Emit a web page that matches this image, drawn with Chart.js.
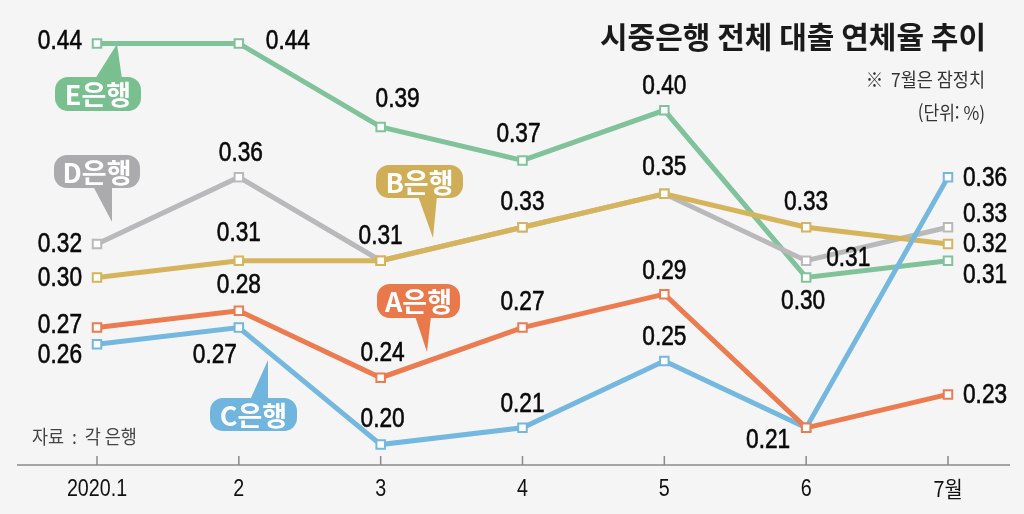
<!DOCTYPE html>
<html lang="ko">
<head>
<meta charset="UTF-8">
<title>시중은행 전체 대출 연체율 추이</title>
<script src="https://cdn.jsdelivr.net/npm/chart.js"></script>
<style>
  html, body { margin: 0; padding: 0; background: #f5f5f5; }
  #wrap { width: 1024px; height: 514px; position: relative; }
</style>
</head>
<body>
<div id="wrap"><canvas id="c" width="1024" height="514"></canvas></div>
<script>
// data
const months = ['2020.1', '2', '3', '4', '5', '6', '7월'];
const bankA = [0.27, 0.28, 0.24, 0.27, 0.29, 0.21, 0.23];
const bankB = [0.30, 0.31, 0.31, 0.33, 0.35, 0.33, 0.32];
const bankC = [0.26, 0.27, 0.20, 0.21, 0.25, 0.21, 0.36];
const bankD = [0.32, 0.36, 0.31, 0.33, 0.35, 0.31, 0.33];
const bankE = [0.44, 0.44, 0.39, 0.37, 0.40, 0.30, 0.31];

// value label placement per point: [dx, dy, align] or null (hidden)
const placeA = [[-15,-3,'right'],[0,-26,'center'],[2,-25,'center'],[0,-26,'center'],[0,-24,'center'],null,[15,0,'left']];
const placeB = [[-15,0,'right'],[0,-28,'center'],[0,-25,'center'],[0,-26,'center'],[0,-27,'center'],[0,-26,'center'],[15,0,'left']];
const placeC = [[-15,10,'right'],[-24,27,'center'],[2,-26,'center'],[0,-24,'center'],[0,-24,'center'],[-38,12,'center'],[15,0,'left']];
const placeD = [[-15,0,'right'],[2,-25,'center'],null,null,null,[20,-3,'left'],[15,-14,'left']];
const placeE = [[-15,-3,'right'],[27,-3,'left'],[17,-28,'center'],[-4,-27,'center'],[0,-25,'center'],[-3,23,'center'],[15,14,'left']];

const colA = '#ec7b4f', colB = '#d6b45c', colC = '#74b7df', colD = '#b9b9bc', colE = '#80c29a';

// callouts: box [x1, y1, x2, y2], tail base x range, tip
const callouts = [
  { text: 'E은행', color: '#79bf90', box: [55, 77, 141, 111], base: [95, 122], tip: [117, 44] },
  { text: 'D은행', color: '#ababae', box: [54, 155, 140, 188], base: [93, 112], tip: [112, 222] },
  { text: 'B은행', color: '#cfae57', box: [376, 165, 463, 198], base: [418, 437], tip: [433, 238] },
  { text: 'A은행', color: '#e9794b', box: [377, 284, 460, 318], base: [415, 431], tip: [427, 352] },
  { text: 'C은행', color: '#70b5de', box: [210, 398, 297, 431], base: [250, 268], tip: [268, 360] }
];

function mkSet(label, data, color, place, order) {
  return {
    label: label, data: data, borderColor: color, borderWidth: 5,
    pointStyle: 'rect', pointRadius: 6, pointBackgroundColor: '#ffffff',
    pointBorderColor: color, pointBorderWidth: 2, tension: 0, order: order,
    place: place
  };
}

// narrow text: draw squeezed horizontally
function narrowText(ctx, txt, x, y, align, sx, stroke) {
  ctx.save();
  ctx.translate(x, y);
  ctx.scale(sx, 1);
  ctx.textAlign = align;
  ctx.fillText(txt, 0, 0);
  if (stroke) ctx.strokeText(txt, 0, 0);
  ctx.restore();
}

const decor = {
  id: 'decor',
  beforeDatasetsDraw(chart) {
    const ctx = chart.ctx, xs = chart.scales.x;
    ctx.save();
    // axis line + ticks + labels
    ctx.strokeStyle = '#8a8a8a';
    ctx.lineWidth = 1.5;
    ctx.beginPath();
    ctx.moveTo(17, 465); ctx.lineTo(1010, 465);
    months.forEach((m, i) => {
      const x = xs.getPixelForValue(i);
      ctx.moveTo(x, 456); ctx.lineTo(x, 465);
    });
    ctx.stroke();
    ctx.fillStyle = '#111111';
    ctx.textBaseline = 'middle';
    months.forEach((m, i) => {
      const x = xs.getPixelForValue(i);
      ctx.font = (i === 6 ? '22px "Noto Sans CJK KR"' : '24px "Liberation Sans", Arial') + ', sans-serif';
      narrowText(ctx, m, x, 489, 'center', i === 6 ? 0.9 : 0.82);
    });
    // callouts
    callouts.forEach(c => {
      const [x1, y1, x2, y2] = c.box;
      ctx.fillStyle = c.color;
      ctx.beginPath();
      ctx.roundRect(x1, y1, x2 - x1, y2 - y1, 13);
      ctx.fill();
      const edge = c.tip[1] < y1 ? y1 + 2 : y2 - 2;
      ctx.beginPath();
      ctx.moveTo(c.base[0], edge);
      ctx.lineTo(c.base[1], edge);
      ctx.lineTo(c.tip[0], c.tip[1]);
      ctx.closePath();
      ctx.fill();
      ctx.fillStyle = '#ffffff';
      ctx.font = 'bold 27px "Noto Sans CJK KR", sans-serif';
      ctx.textAlign = 'center';
      ctx.textBaseline = 'middle';
      ctx.fillText(c.text, (x1 + x2) / 2, (y1 + y2) / 2 + 1);
    });
    // texts
    ctx.fillStyle = '#1a1a1a';
    ctx.textAlign = 'right';
    ctx.textBaseline = 'middle';
    ctx.font = 'bold 30px "Noto Sans CJK KR", sans-serif';
    ctx.fillText('시중은행 전체 대출 연체율 추이', 986, 37);
    ctx.fillStyle = '#333333';
    ctx.font = '19px "Noto Sans CJK KR", sans-serif';
    narrowText(ctx, '※  7월은 잠정치', 985, 80, 'right', 0.92);
    narrowText(ctx, '(단위: %)', 985, 113, 'right', 0.9);
    ctx.fillStyle = '#444444';
    narrowText(ctx, '자료  :  각 은행', 32, 437, 'left', 0.92);
    ctx.restore();
  },
  afterDatasetsDraw(chart) {
    const ctx = chart.ctx;
    ctx.save();
    ctx.fillStyle = '#0a0a0a';
    ctx.strokeStyle = '#0a0a0a';
    ctx.lineWidth = 0.6;
    ctx.font = '27px "Liberation Sans", Arial, sans-serif';
    ctx.textBaseline = 'middle';
    chart.data.datasets.forEach((ds, di) => {
      const meta = chart.getDatasetMeta(di);
      meta.data.forEach((pt, i) => {
        const p = ds.place[i];
        if (!p) return;
        narrowText(ctx, ds.data[i].toFixed(2), pt.x + p[0], pt.y + p[1] + 1, p[2], 0.84, true);
      });
    });
    ctx.restore();
  }
};

new Chart(document.getElementById('c'), {
  type: 'line',
  data: {
    labels: months,
    datasets: [
      mkSet('A은행', bankA, colA, placeA, 1),
      mkSet('C은행', bankC, colC, placeC, 2),
      mkSet('B은행', bankB, colB, placeB, 3),
      mkSet('D은행', bankD, colD, placeD, 4),
      mkSet('E은행', bankE, colE, placeE, 5)
    ]
  },
  options: {
    responsive: false,
    animation: false,
    layout: { padding: { left: 97, right: 76, top: 10, bottom: 36 } },
    plugins: { legend: { display: false }, tooltip: { enabled: false } },
    scales: {
      x: { display: false, offset: false },
      y: { display: false, min: 0.18, max: 0.46 }
    }
  },
  plugins: [decor]
});
</script>
</body>
</html>
